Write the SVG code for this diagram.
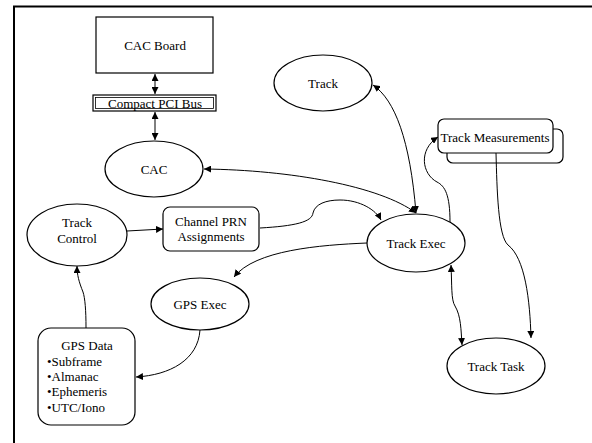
<svg xmlns="http://www.w3.org/2000/svg" width="592" height="443" viewBox="0 0 592 443">
  <style>
    .node { fill: #fff; stroke: #000; stroke-width: 1.2; }
    text { font-family: 'Liberation Serif', 'DejaVu Serif', serif; font-size: 13px; fill: #000; }
    .mid { text-anchor: middle; }
    .edge { fill: none; stroke: #000; stroke-width: 1; }
  </style>
  <defs>
    <marker id="ah" viewBox="0 0 10 10" refX="10" refY="5" markerWidth="7" markerHeight="7" orient="auto-start-reverse" markerUnits="userSpaceOnUse">
      <path d="M0,0 L10,5 L0,10 Z" fill="#000"/>
    </marker>
  </defs>

  <rect width="592" height="443" fill="#fff"/>
  <!-- frame -->
  <path d="M14,443 L14,6.5 L592,6.5" fill="none" stroke="#000" stroke-width="2"/>

  <g id="cac-board">
    <rect class="node" x="96" y="17" width="117" height="56"/>
    <text class="mid" x="155" y="50">CAC Board</text>
  </g>

  <g id="pci-bus">
    <rect class="node" x="93" y="95" width="123" height="16"/>
    <rect x="95.5" y="97.5" width="118" height="11" fill="none" stroke="#000" stroke-width="0.8"/>
    <text class="mid" x="155" y="107.5">Compact PCI Bus</text>
  </g>

  <g id="cac">
    <ellipse class="node" cx="154" cy="169" rx="49" ry="28"/>
    <text class="mid" x="154" y="174">CAC</text>
  </g>

  <g id="track">
    <ellipse class="node" cx="323" cy="83" rx="49" ry="28"/>
    <text class="mid" x="323" y="88">Track</text>
  </g>

  <g id="track-measurements">
    <rect class="node" x="447" y="129" width="116" height="34" rx="6"/>
    <rect class="node" x="438" y="119" width="115" height="34" rx="6"/>
    <text class="mid" x="495" y="141.5">Track Measurements</text>
  </g>

  <g id="track-control">
    <ellipse class="node" cx="77" cy="235" rx="50" ry="31"/>
    <text class="mid" x="77" y="227">Track</text>
    <text class="mid" x="77" y="243">Control</text>
  </g>

  <g id="channel-prn">
    <rect class="node" x="163" y="207" width="96" height="44" rx="7"/>
    <text class="mid" x="211" y="226">Channel PRN</text>
    <text class="mid" x="211" y="241">Assignments</text>
  </g>

  <g id="track-exec">
    <ellipse class="node" cx="416" cy="243" rx="49" ry="29"/>
    <text class="mid" x="416" y="248">Track Exec</text>
  </g>

  <g id="gps-exec">
    <ellipse class="node" cx="200" cy="304" rx="49" ry="26"/>
    <text class="mid" x="200" y="309">GPS Exec</text>
  </g>

  <g id="gps-data">
    <rect class="node" x="38" y="328" width="97" height="97" rx="13"/>
    <text class="mid" x="87" y="350">GPS Data</text>
    <text x="47" y="366">•Subframe</text>
    <text x="47" y="381">•Almanac</text>
    <text x="47" y="396">•Ephemeris</text>
    <text x="47" y="412">•UTC/Iono</text>
  </g>

  <g id="track-task">
    <ellipse class="node" cx="496" cy="366" rx="49" ry="28"/>
    <text class="mid" x="496" y="371">Track Task</text>
  </g>

  <g id="connectors">
    <!-- board <-> bus -->
    <path class="edge" d="M155,74 L155,94" marker-start="url(#ah)" marker-end="url(#ah)"/>
    <!-- bus <-> CAC -->
    <path class="edge" d="M155,112 L155,140" marker-start="url(#ah)" marker-end="url(#ah)"/>
    <!-- CAC <-> Track Exec -->
    <path class="edge" d="M204,169 C290,170 380,186 416,213" marker-start="url(#ah)" marker-end="url(#ah)"/>
    <!-- Track <-> Track Exec -->
    <path class="edge" d="M373,85 C395,100 410,140 416,213" marker-start="url(#ah)" marker-end="url(#ah)"/>
    <!-- Track Exec -> Track Measurements -->
    <path class="edge" d="M450,222 C450,195 445,186 437,182 C422,174 418,150 438,137" marker-end="url(#ah)"/>
    <!-- Track Measurements -> Track Task -->
    <path class="edge" d="M496,153 C497,190 498,236 508,245 C525,258 530,300 531,338" marker-end="url(#ah)"/>
    <!-- Track Exec <-> Track Task -->
    <path class="edge" d="M451,265 C452,285 451,300 455,306 C461,316 461,330 462,345" marker-start="url(#ah)" marker-end="url(#ah)"/>
    <!-- Track Control -> Channel PRN -->
    <path class="edge" d="M127,231 L163,229" marker-end="url(#ah)"/>
    <!-- Channel PRN -> Track Exec -->
    <path class="edge" d="M260,228 C295,226 312,222 313,213 C315,204 326,200 340,200 C360,200 376,210 381,220" marker-end="url(#ah)"/>
    <!-- Track Exec -> GPS Exec -->
    <path class="edge" d="M367,243 C320,245 255,250 234,277" marker-end="url(#ah)"/>
    <!-- GPS Exec -> GPS Data -->
    <path class="edge" d="M200,330 C198,360 170,375 136,377" marker-end="url(#ah)"/>
    <!-- GPS Data -> Track Control -->
    <path class="edge" d="M86,328 C86,310 85,298 83,292 C79,282 77,275 77,266" marker-end="url(#ah)"/>
  </g>
</svg>
